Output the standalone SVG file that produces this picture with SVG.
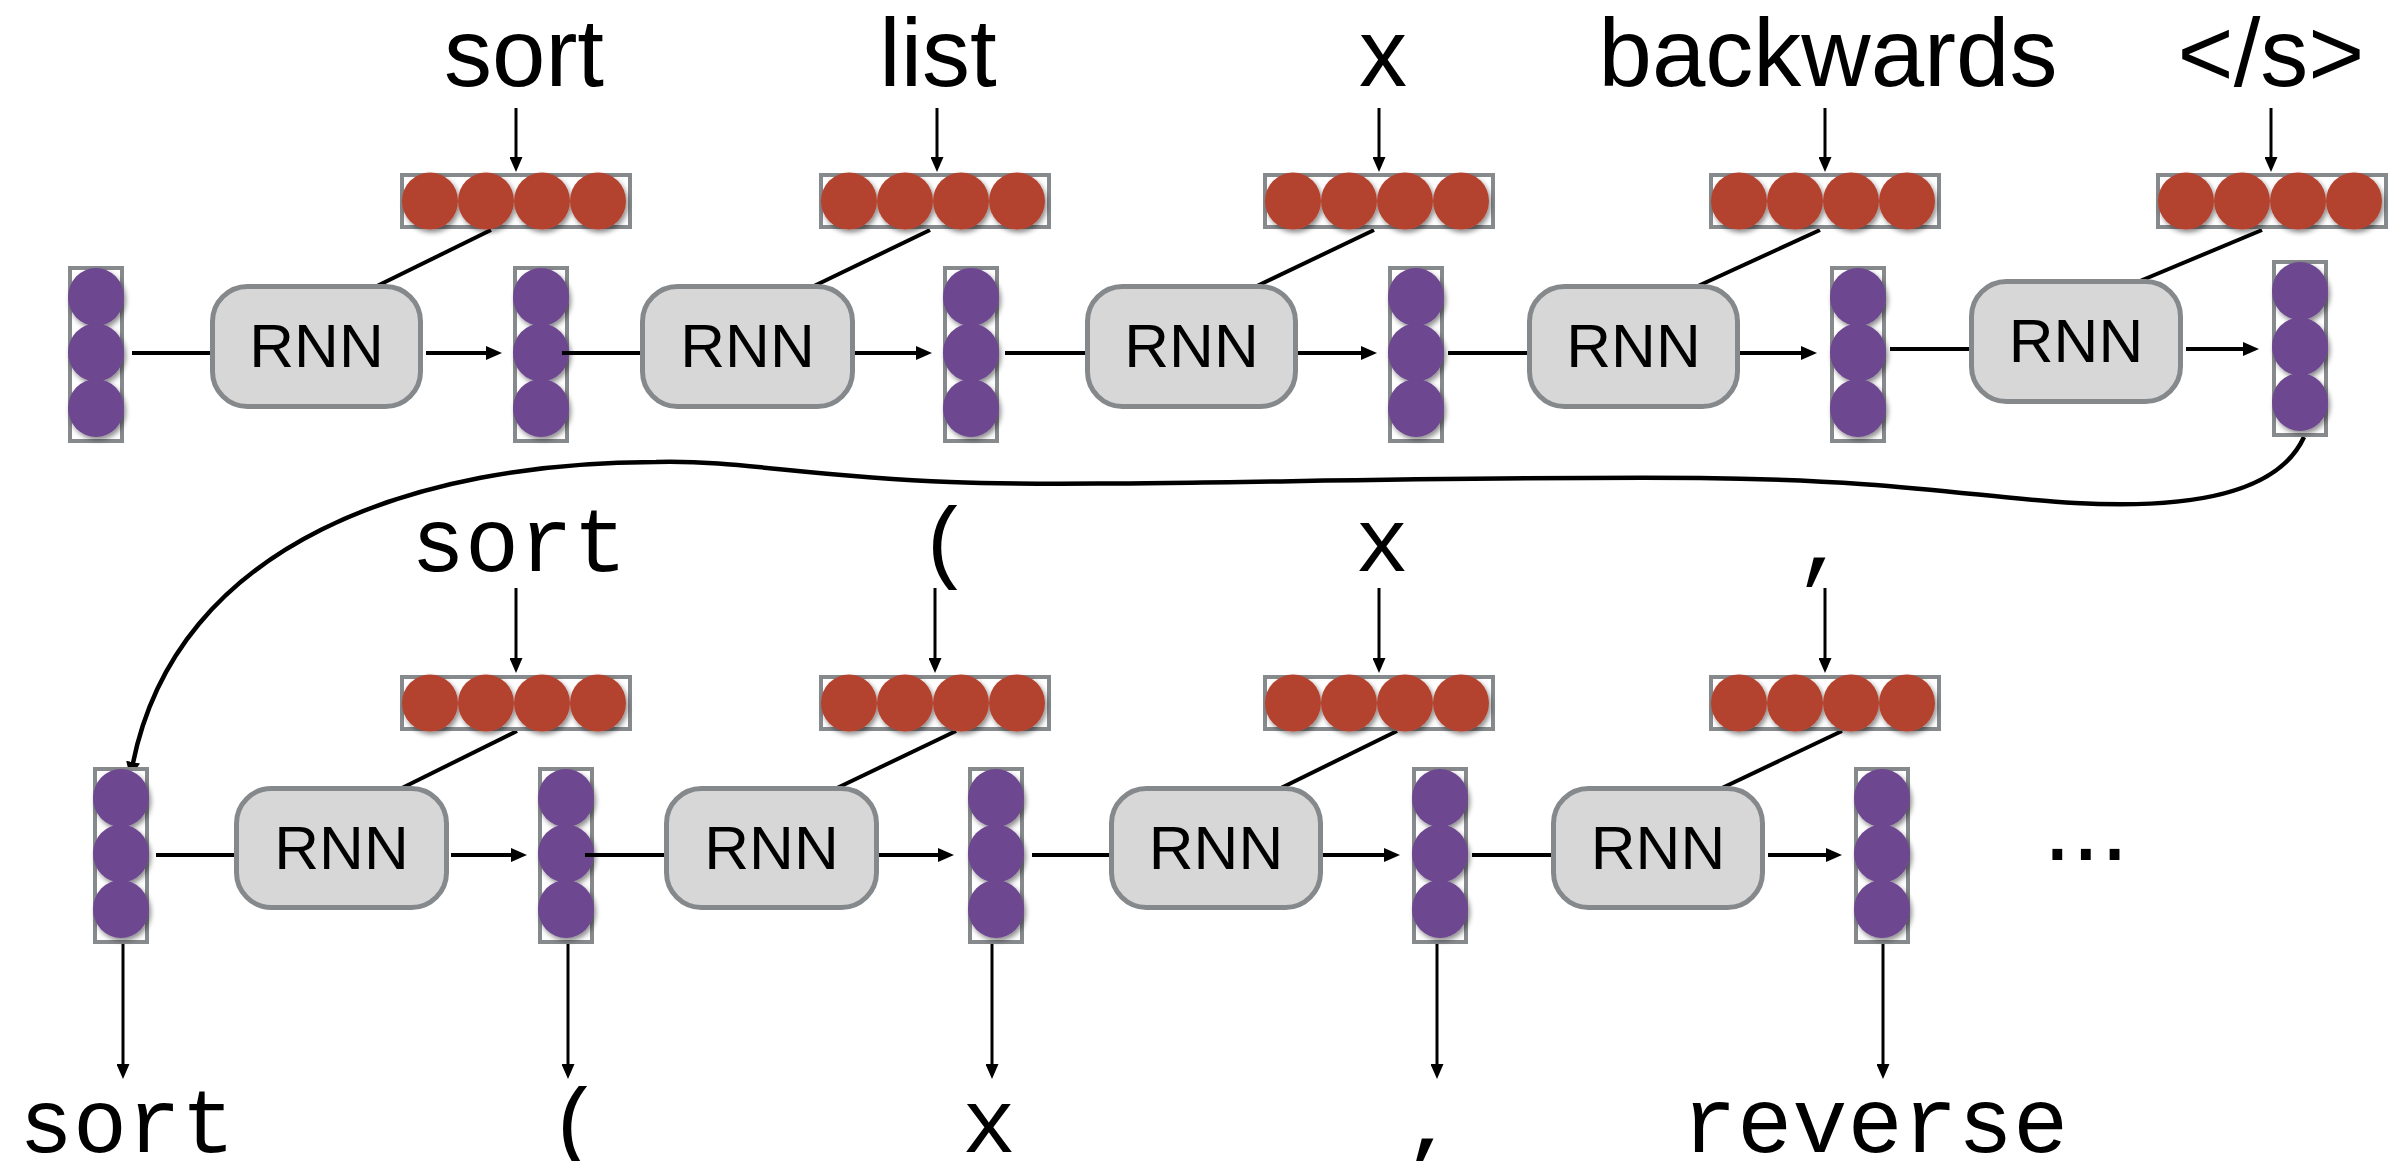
<svg xmlns="http://www.w3.org/2000/svg" xmlns:xlink="http://www.w3.org/1999/xlink" width="2392" height="1161" viewBox="0 0 2392 1161">
<style>
.lbl{font-family:"Liberation Sans",Arial,Helvetica,sans-serif;font-size:96px;fill:#000;text-anchor:middle}
.mono{font-family:"Liberation Mono","Courier New",monospace;font-size:90px;fill:#000;text-anchor:middle}
.rnnt{font-family:"Liberation Sans",Arial,Helvetica,sans-serif;font-size:62px;fill:#000;text-anchor:middle}
.frame{fill:#fff;stroke:#878a8d;stroke-width:4}
.rnn{fill:#d7d7d7;stroke:#86898c;stroke-width:5}
.red{fill:#b3432f}
.pur{fill:#6d478f}
.ln{stroke:#000;stroke-width:4;fill:none}
.thin{stroke:#000;stroke-width:3;fill:none}
.arr{marker-end:url(#ah)}
.tarr{marker-end:url(#aht)}
</style>
<defs>
<filter id="sh" x="-30%" y="-30%" width="170%" height="170%">
<feDropShadow dx="2" dy="3" stdDeviation="2.5" flood-color="#000" flood-opacity="0.45"/>
</filter>
<marker id="ah" viewBox="0 0 16 14" refX="6" refY="7" markerWidth="16" markerHeight="14" markerUnits="userSpaceOnUse" orient="auto">
<path d="M0,0 L16,7 L0,14 z" fill="#000"/>
</marker>
<marker id="aht" viewBox="0 0 15 13" refX="5" refY="6.5" markerWidth="15" markerHeight="13" markerUnits="userSpaceOnUse" orient="auto">
<path d="M0,0 L15,6.5 L0,13 z" fill="#000"/>
</marker>
<g id="emb">
<rect class="frame" x="2" y="2" width="228" height="52"/>
<g filter="url(#sh)" class="red">
<ellipse cx="30" cy="28" rx="28" ry="28.5"/>
<ellipse cx="86" cy="28" rx="28" ry="28.5"/>
<ellipse cx="142" cy="28" rx="28" ry="28.5"/>
<ellipse cx="198" cy="28" rx="28" ry="28.5"/>
</g>
</g>
<g id="st">
<rect class="frame" x="2" y="2" width="52" height="173"/>
<g filter="url(#sh)" class="pur">
<ellipse cx="28" cy="31" rx="28" ry="29"/>
<ellipse cx="28" cy="86.5" rx="28" ry="29"/>
<ellipse cx="28" cy="142" rx="28" ry="29"/>
</g>
</g>
</defs>
<rect width="2392" height="1161" fill="#fff"/>

<!-- top input labels -->
<g id="in-top-1"><text class="lbl" x="524" y="86">sort</text></g>
<g id="in-top-2"><text class="lbl" x="938" y="86">list</text></g>
<g id="in-top-3"><text class="lbl" x="1383" y="86">x</text></g>
<g id="in-top-4"><text class="lbl" x="1828" y="86">backwards</text></g>
<g id="in-top-5"><text class="lbl" x="2271" y="86">&lt;/s&gt;</text></g>

<!-- bottom input labels -->
<g id="in-bot-1"><text class="mono" x="519" y="571">sort</text></g>
<g id="in-bot-2"><text class="mono" x="945" y="571">(</text></g>
<g id="in-bot-3"><text class="mono" x="1382" y="571">x</text></g>
<g id="in-bot-4"><text class="mono" x="1822" y="571">,</text></g>

<!-- output labels -->
<g id="out-1"><text class="mono" x="127" y="1152">sort</text></g>
<g id="out-2"><text class="mono" x="575" y="1152">(</text></g>
<g id="out-3"><text class="mono" x="989" y="1152">x</text></g>
<g id="out-4"><text class="mono" x="1430" y="1152">,</text></g>
<g id="out-5"><text class="mono" x="1875" y="1152" style="font-size:92px">reverse</text></g>
<g id="ellipsis"><text x="2043" y="860" style="font-family:'Liberation Sans',Arial,sans-serif;font-size:103px;fill:#000">...</text></g>

<!-- connectors -->
<g id="connectors">
<!-- input arrows -->
<line class="thin tarr" x1="516" y1="108" x2="516" y2="162"/>
<line class="thin tarr" x1="937" y1="108" x2="937" y2="162"/>
<line class="thin tarr" x1="1379" y1="108" x2="1379" y2="162"/>
<line class="thin tarr" x1="1825" y1="108" x2="1825" y2="162"/>
<line class="thin tarr" x1="2271" y1="108" x2="2271" y2="162"/>
<line class="thin tarr" x1="516" y1="588" x2="516" y2="663"/>
<line class="thin tarr" x1="935" y1="588" x2="935" y2="663"/>
<line class="thin tarr" x1="1379" y1="588" x2="1379" y2="663"/>
<line class="thin tarr" x1="1825" y1="588" x2="1825" y2="663"/>
<!-- output arrows -->
<line class="thin tarr" x1="123" y1="936" x2="123" y2="1069"/>
<line class="thin tarr" x1="568" y1="936" x2="568" y2="1069"/>
<line class="thin tarr" x1="992" y1="936" x2="992" y2="1069"/>
<line class="thin tarr" x1="1437" y1="936" x2="1437" y2="1069"/>
<line class="thin tarr" x1="1883" y1="936" x2="1883" y2="1069"/>
<!-- embedding to RNN -->
<line class="ln" x1="491" y1="230" x2="377" y2="286"/>
<line class="ln" x1="930" y1="230" x2="814" y2="286"/>
<line class="ln" x1="1374" y1="230" x2="1257" y2="286"/>
<line class="ln" x1="1820" y1="230" x2="1698" y2="286"/>
<line class="ln" x1="2262" y1="230" x2="2140" y2="281"/>
<line class="ln" x1="517" y1="731" x2="402" y2="788"/>
<line class="ln" x1="956" y1="731" x2="837" y2="788"/>
<line class="ln" x1="1397" y1="731" x2="1281" y2="788"/>
<line class="ln" x1="1842" y1="731" x2="1722" y2="788"/>
<!-- top row horizontal -->
<line class="ln" x1="132" y1="353" x2="212" y2="353"/>
<line class="ln arr" x1="426" y1="353" x2="492" y2="353"/>
<line class="ln" x1="562" y1="353" x2="642" y2="353"/>
<line class="ln arr" x1="855" y1="353" x2="922" y2="353"/>
<line class="ln" x1="1005" y1="353" x2="1087" y2="353"/>
<line class="ln arr" x1="1298" y1="353" x2="1367" y2="353"/>
<line class="ln" x1="1448" y1="353" x2="1529" y2="353"/>
<line class="ln arr" x1="1740" y1="353" x2="1807" y2="353"/>
<line class="ln" x1="1890" y1="349" x2="1971" y2="349"/>
<line class="ln arr" x1="2186" y1="349" x2="2249" y2="349"/>
<!-- bottom row horizontal -->
<line class="ln" x1="156" y1="855" x2="236" y2="855"/>
<line class="ln arr" x1="451" y1="855" x2="517" y2="855"/>
<line class="ln" x1="585" y1="855" x2="666" y2="855"/>
<line class="ln arr" x1="879" y1="855" x2="944" y2="855"/>
<line class="ln" x1="1032" y1="855" x2="1111" y2="855"/>
<line class="ln arr" x1="1323" y1="855" x2="1390" y2="855"/>
<line class="ln" x1="1472" y1="855" x2="1553" y2="855"/>
<line class="ln arr" x1="1768" y1="855" x2="1832" y2="855"/>
<!-- encoder to decoder curve -->
<path class="ln arr" style="stroke-width:4.5" d="M2304,437 C2280,490 2200,510 2075,503 C1980,498 1900,480 1700,478 C1400,476 1100,488 950,482 C800,476 740,460 656,462 C420,462 175,540 132,768"/>
</g>

<!-- RNN cells top -->
<g id="rnn-top-1"><rect class="rnn" x="212.5" y="286.5" width="208" height="120" rx="35"/><text class="rnnt" x="316.5" y="367">RNN</text></g>
<g id="rnn-top-2"><rect class="rnn" x="642.5" y="286.5" width="210" height="120" rx="35"/><text class="rnnt" x="747.5" y="367">RNN</text></g>
<g id="rnn-top-3"><rect class="rnn" x="1087.5" y="286.5" width="208" height="120" rx="35"/><text class="rnnt" x="1191.5" y="367">RNN</text></g>
<g id="rnn-top-4"><rect class="rnn" x="1529.5" y="286.5" width="208" height="120" rx="35"/><text class="rnnt" x="1633.5" y="367">RNN</text></g>
<g id="rnn-top-5"><rect class="rnn" x="1971.5" y="281.5" width="209" height="120" rx="35"/><text class="rnnt" x="2076" y="362">RNN</text></g>

<!-- RNN cells bottom -->
<g id="rnn-bot-1"><rect class="rnn" x="236.5" y="788.5" width="210" height="119" rx="35"/><text class="rnnt" x="341.5" y="869">RNN</text></g>
<g id="rnn-bot-2"><rect class="rnn" x="666.5" y="788.5" width="210" height="119" rx="35"/><text class="rnnt" x="771.5" y="869">RNN</text></g>
<g id="rnn-bot-3"><rect class="rnn" x="1111.5" y="788.5" width="209" height="119" rx="35"/><text class="rnnt" x="1216" y="869">RNN</text></g>
<g id="rnn-bot-4"><rect class="rnn" x="1553.5" y="788.5" width="209" height="119" rx="35"/><text class="rnnt" x="1658" y="869">RNN</text></g>

<!-- embeddings -->
<g id="emb-top-1"><use xlink:href="#emb" x="400" y="173"/></g>
<g id="emb-top-2"><use xlink:href="#emb" x="819" y="173"/></g>
<g id="emb-top-3"><use xlink:href="#emb" x="1263" y="173"/></g>
<g id="emb-top-4"><use xlink:href="#emb" x="1709" y="173"/></g>
<g id="emb-top-5"><use xlink:href="#emb" x="2156" y="173"/></g>
<g id="emb-bot-1"><use xlink:href="#emb" x="400" y="675"/></g>
<g id="emb-bot-2"><use xlink:href="#emb" x="819" y="675"/></g>
<g id="emb-bot-3"><use xlink:href="#emb" x="1263" y="675"/></g>
<g id="emb-bot-4"><use xlink:href="#emb" x="1709" y="675"/></g>

<!-- hidden states -->
<g id="state-top-0"><use xlink:href="#st" x="68" y="266"/></g>
<g id="state-top-1"><use xlink:href="#st" x="513" y="266"/></g>
<g id="state-top-2"><use xlink:href="#st" x="943" y="266"/></g>
<g id="state-top-3"><use xlink:href="#st" x="1388" y="266"/></g>
<g id="state-top-4"><use xlink:href="#st" x="1830" y="266"/></g>
<g id="state-top-5"><use xlink:href="#st" x="2272" y="260"/></g>
<g id="state-bot-0"><use xlink:href="#st" x="93" y="767"/></g>
<g id="state-bot-1"><use xlink:href="#st" x="538" y="767"/></g>
<g id="state-bot-2"><use xlink:href="#st" x="968" y="767"/></g>
<g id="state-bot-3"><use xlink:href="#st" x="1412" y="767"/></g>
<g id="state-bot-4"><use xlink:href="#st" x="1854" y="767"/></g>

<!-- lines drawn over state circles (start inside box) -->
<g id="connectors-over">
<line class="ln" x1="562" y1="353" x2="575" y2="353"/>
<line class="ln" x1="585" y1="855" x2="600" y2="855"/>
</g>
</svg>
